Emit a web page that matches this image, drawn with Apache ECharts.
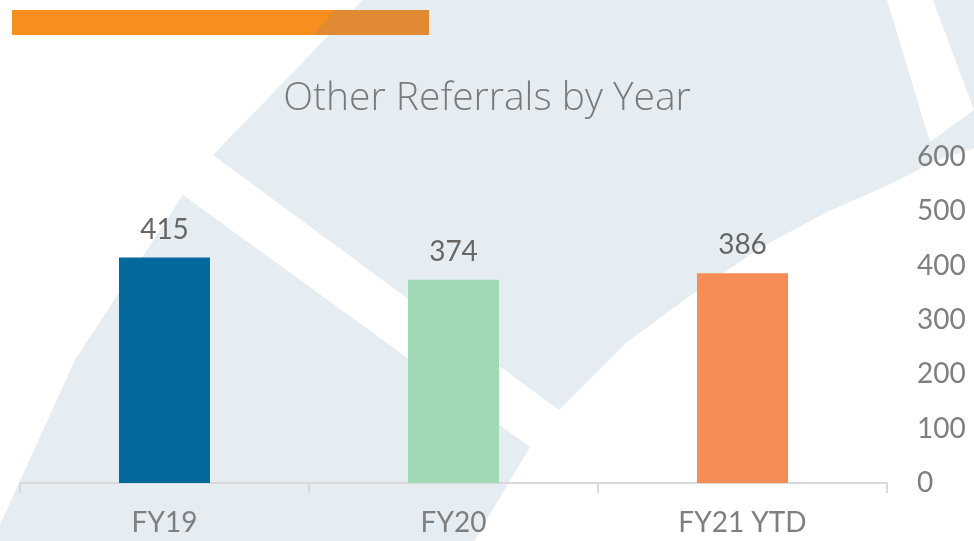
<!DOCTYPE html>
<html>
<head>
<meta charset="utf-8">
<title>Other Referrals by Year</title>
<script src="https://cdn.jsdelivr.net/npm/echarts@6/dist/echarts.min.js"></script>
<style>
  html, body { margin: 0; padding: 0; background: #fff; }
  #chart { width: 974px; height: 541px; }
</style>
</head>
<body>
<div id="chart"></div>
<script>
// data
const categories = ['FY19', 'FY20', 'FY21 YTD']
const referrals = [415, 374, 386]
const barColors = ['#02699a', '#a1d9b4', '#f68d56']
const yTicks = [0, 100, 200, 300, 400, 500, 600]

const FONT = 'Lato, "Noto Sans", sans-serif'
const TITLE_FONT = '"Open Sans", Lato, sans-serif'
const WASH = '#e5edf2'

const chart = echarts.init(document.getElementById('chart'))

// faint watermark shapes behind the chart
const washShapes = [
  [[363, 0], [887, 0], [930, 142], [974, 110], [974, 148], [933, 162], [895, 182], [827, 212],
    [760, 248], [687, 298], [627, 342], [559, 410], [213, 155]],
  [[183, 195], [530, 447], [474, 541], [0, 541], [0, 525], [75, 360]],
  [[933, 0], [974, 0], [974, 110]],
]

const option = {
  backgroundColor: '#ffffff',
  animation: false,
  title: {
    text: 'Other Referrals by Year',
    left: 'center',
    top: 74,
    textStyle: {
      color: '#7a7a7a',
      fontFamily: TITLE_FONT,
      fontWeight: 300,
      fontSize: 39,
    },
  },
  graphic: [
    ...washShapes.map(pts => ({
      type: 'polygon',
      silent: true,
      z: -10,
      shape: { points: pts },
      style: { fill: WASH },
    })),
    {
      type: 'rect',
      silent: true,
      z: -5,
      shape: { x: 12, y: 10, width: 417, height: 25 },
      style: { fill: '#f78f1f' },
    },
    {
      type: 'polygon',
      silent: true,
      z: -4,
      shape: { points: [[334, 10], [429, 10], [429, 35], [314, 35]] },
      style: { fill: '#e08a33' },
    },
  ],
  grid: {
    left: 20,
    right: 87,
    top: 157,
    bottom: 58,
    containLabel: false,
  },
  xAxis: {
    type: 'category',
    data: categories,
    axisLine: {
      lineStyle: { color: '#d9d9d9', width: 2 },
    },
    axisTick: {
      show: true,
      length: 10,
      lineStyle: { color: '#d9d9d9', width: 2 },
    },
    axisLabel: {
      color: '#7f7f7f',
      fontFamily: FONT,
      fontSize: 28,
      margin: 26,
    },
  },
  yAxis: {
    type: 'value',
    position: 'right',
    min: yTicks[0],
    max: yTicks[yTicks.length - 1],
    interval: 100,
    axisLine: { show: false },
    axisTick: { show: false },
    splitLine: { show: false },
    axisLabel: {
      color: '#7f7f7f',
      fontFamily: FONT,
      fontSize: 28,
      margin: 30,
    },
  },
  series: [
    {
      name: 'Other Referrals',
      type: 'bar',
      barWidth: 91,
      data: referrals.map((v, i) => ({
        value: v,
        itemStyle: { color: barColors[i] },
      })),
      label: {
        show: true,
        position: 'top',
        distance: 14,
        color: '#666666',
        fontFamily: FONT,
        fontSize: 28,
      },
    },
  ],
}

chart.setOption(option)
</script>
</body>
</html>
